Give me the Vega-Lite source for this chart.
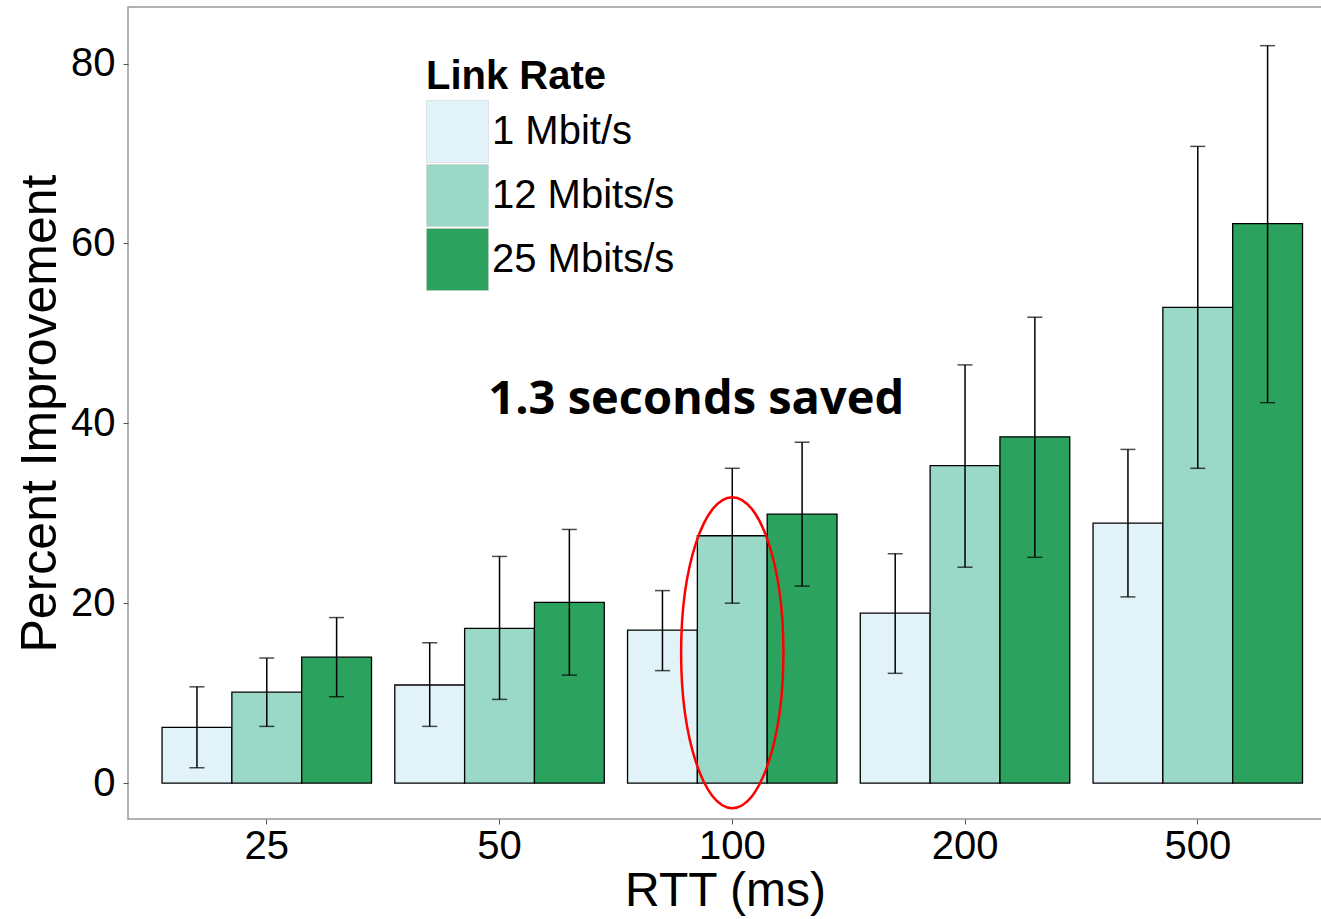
{
  "$schema": "https://vega.github.io/schema/vega-lite/v6.json",
  "width": 1194,
  "height": 812,
  "autosize": {"type": "none"},
  "padding": {"left": 128, "top": 7, "right": 0, "bottom": 100},
  "background": "white",
  "config": {
    "view": {"stroke": "#999999", "strokeWidth": 1.5},
    "font": "Liberation Sans"
  },
  "data": {
    "values": [
      {"rtt": "25", "rate": "1 Mbit/s", "value": 6.2, "lo": 1.7, "hi": 10.7},
      {"rtt": "25", "rate": "12 Mbits/s", "value": 10.1, "lo": 6.3, "hi": 13.9},
      {"rtt": "25", "rate": "25 Mbits/s", "value": 14.0, "lo": 9.6, "hi": 18.4},
      {"rtt": "50", "rate": "1 Mbit/s", "value": 10.9, "lo": 6.3, "hi": 15.6},
      {"rtt": "50", "rate": "12 Mbits/s", "value": 17.2, "lo": 9.3, "hi": 25.2},
      {"rtt": "50", "rate": "25 Mbits/s", "value": 20.1, "lo": 12.0, "hi": 28.2},
      {"rtt": "100", "rate": "1 Mbit/s", "value": 17.0, "lo": 12.5, "hi": 21.4},
      {"rtt": "100", "rate": "12 Mbits/s", "value": 27.5, "lo": 20.0, "hi": 35.0},
      {"rtt": "100", "rate": "25 Mbits/s", "value": 29.9, "lo": 21.9, "hi": 37.9},
      {"rtt": "200", "rate": "1 Mbit/s", "value": 18.9, "lo": 12.2, "hi": 25.5},
      {"rtt": "200", "rate": "12 Mbits/s", "value": 35.3, "lo": 24.0, "hi": 46.5},
      {"rtt": "200", "rate": "25 Mbits/s", "value": 38.5, "lo": 25.1, "hi": 51.8},
      {"rtt": "500", "rate": "1 Mbit/s", "value": 28.9, "lo": 20.7, "hi": 37.1},
      {"rtt": "500", "rate": "12 Mbits/s", "value": 52.9, "lo": 35.0, "hi": 70.8},
      {"rtt": "500", "rate": "25 Mbits/s", "value": 62.2, "lo": 42.3, "hi": 82.0}
    ]
  },
  "encoding": {
    "x": {
      "field": "rtt", "type": "ordinal",
      "sort": ["25", "50", "100", "200", "500"],
      "scale": {"paddingInner": 0.1, "paddingOuter": 0.115, "align": 0.636},
      "axis": {
        "title": "RTT (ms)", "titleFontSize": 48, "titleFontWeight": "normal", "titleColor": "black",
        "titlePadding": 1,
        "labelFontSize": 40, "labelColor": "black", "labelAngle": 0, "labelPadding": 2,
        "domain": false, "ticks": true, "tickColor": "#555555", "tickSize": 5
      }
    },
    "xOffset": {
      "field": "rate", "type": "nominal",
      "sort": ["1 Mbit/s", "12 Mbits/s", "25 Mbits/s"],
      "scale": {"paddingInner": 0, "paddingOuter": 0}
    }
  },
  "layer": [
    {
      "mark": {"type": "bar", "stroke": "black", "strokeWidth": 1.3},
      "encoding": {
        "y": {
          "field": "value", "type": "quantitative",
          "scale": {"domain": [-4, 86.3], "nice": false, "zero": false},
          "axis": {
            "title": "Percent Improvement", "titleFontSize": 50, "titleFontWeight": "normal", "titleColor": "black",
            "titlePadding": 5,
            "values": [0, 20, 40, 60, 80],
            "labelFontSize": 40, "labelColor": "black", "labelPadding": 8,
            "grid": false, "domain": false, "ticks": true, "tickColor": "#555555", "tickSize": 5
          }
        },
        "y2": {"datum": 0},
        "color": {
          "field": "rate", "type": "nominal",
          "sort": ["1 Mbit/s", "12 Mbits/s", "25 Mbits/s"],
          "scale": {"domain": ["1 Mbit/s", "12 Mbits/s", "25 Mbits/s"], "range": ["#e1f3f8", "#9ad8c8", "#2ca25f"]},
          "legend": {
            "title": "Link Rate",
            "orient": "none",
            "legendX": 298,
            "legendY": 50,
            "titleFontSize": 40, "titleFontWeight": "bold", "titleColor": "black", "titlePadding": 3, "titleLimit": 600,
            "labelFontSize": 40, "labelColor": "black", "labelOffset": 3, "labelLimit": 600,
            "symbolType": "square", "symbolSize": 3844, "symbolOpacity": 1,
            "symbolStrokeColor": "#cccccc", "symbolStrokeWidth": 0.5,
            "rowPadding": -20
          }
        }
      }
    },
    {
      "mark": {"type": "rule", "color": "black", "strokeWidth": 1.5},
      "encoding": {
        "y": {"field": "lo", "type": "quantitative"},
        "y2": {"field": "hi"}
      }
    },
    {
      "mark": {"type": "tick", "color": "black", "thickness": 1.5, "size": 15, "orient": "horizontal"},
      "encoding": {"y": {"field": "lo", "type": "quantitative"}}
    },
    {
      "mark": {"type": "tick", "color": "black", "thickness": 1.5, "size": 15, "orient": "horizontal"},
      "encoding": {"y": {"field": "hi", "type": "quantitative"}}
    },
    {
      "data": {"values": [{"rtt": "100", "rate": "12 Mbits/s", "center": 14.5}]},
      "mark": {
        "type": "point",
        "shape": "M -0.329,0 A 0.329,1 0 1,0 0.329,0 A 0.329,1 0 1,0 -0.329,0 Z",
        "size": 96721,
        "filled": false,
        "stroke": "#ff0000",
        "strokeWidth": 2.5,
        "opacity": 1
      },
      "encoding": {
        "y": {"field": "center", "type": "quantitative"}
      }
    },
    {
      "data": {"values": [{"rtt": "100", "label": "1.3 seconds saved", "ypos": 42.6}]},
      "mark": {
        "type": "text",
        "font": "Open Sans",
        "fontWeight": "bold",
        "fontSize": 47,
        "color": "black",
        "dx": -36,
        "baseline": "middle",
        "align": "center"
      },
      "encoding": {
        "x": {"field": "rtt", "type": "ordinal", "sort": ["25", "50", "100", "200", "500"]},
        "xOffset": null,
        "y": {"field": "ypos", "type": "quantitative"},
        "text": {"field": "label"}
      }
    }
  ]
}
